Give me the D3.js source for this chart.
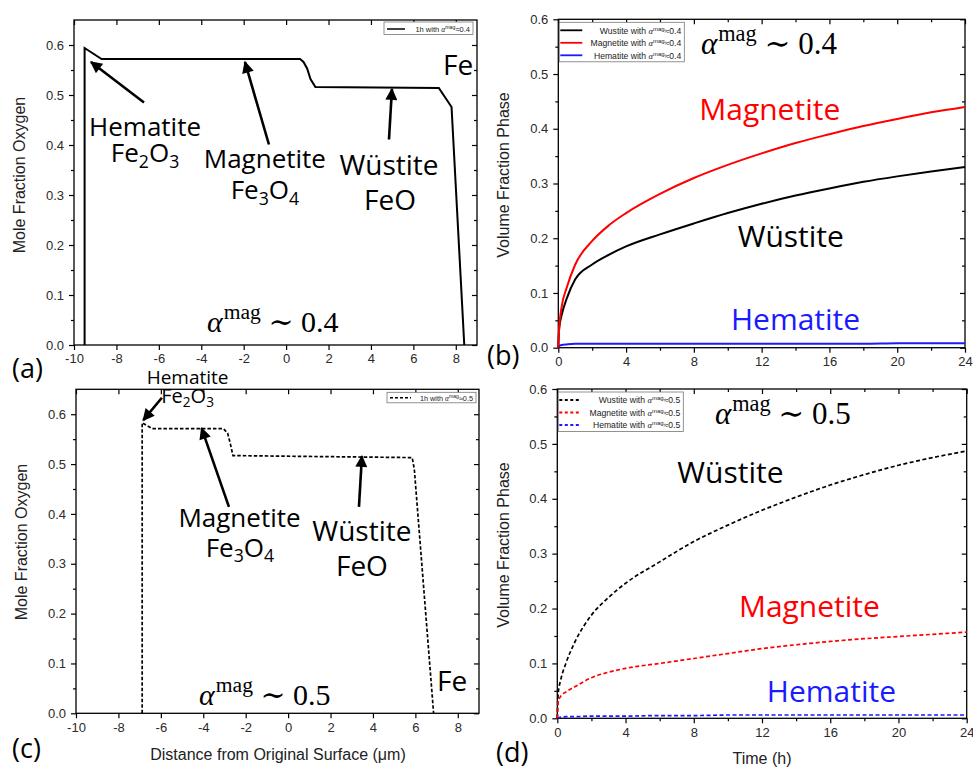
<!DOCTYPE html>
<html>
<head>
<meta charset="utf-8">
<script src="https://cdn.jsdelivr.net/npm/d3@7"></script>
<style>
body { margin: 0; background: #fff; }
svg text { font-family: "Liberation Sans", Arial, sans-serif; }
.ann { font-family: "Open Sans", sans-serif; }
.math { font-family: "Liberation Serif", "DejaVu Serif", serif; }
</style>
</head>
<body>
<svg id="fig" width="973" height="769"></svg>
<script>
// (a) oxygen profile, alpha_mag ~ 0.4
var posA = [-9.5, -9.5, -8.7, 0.66, 0.82, 0.99, 1.15, 1.38, 7.2, 7.8, 8.4];
var oxyA = [0, 0.594, 0.572, 0.572, 0.566, 0.553, 0.532, 0.516, 0.514, 0.476, 0];

// (c) oxygen profile, alpha_mag ~ 0.5
var posC = [-6.88, -6.88, -6.4, -3.05, -2.85, -2.72, -2.6, 5.85, 5.95, 6.86];
var oxyC = [0, 0.583, 0.571, 0.571, 0.562, 0.54, 0.517, 0.513, 0.49, 0];

// (b) and (d) volume fractions vs time (h)
var hours = [0, 0.05, 0.2, 0.5, 1, 2, 3, 4, 6, 8, 10, 12, 14, 16, 18, 20, 22, 24];
var wusB = [0, 0.035, 0.06, 0.09, 0.125, 0.152, 0.17, 0.185, 0.207, 0.227, 0.246, 0.263, 0.278, 0.291, 0.303, 0.313, 0.322, 0.33];
var magB = [0, 0.035, 0.075, 0.11, 0.152, 0.195, 0.224, 0.246, 0.281, 0.31, 0.334, 0.355, 0.374, 0.39, 0.405, 0.418, 0.43, 0.44];
var hemB = [0, 0.003, 0.005, 0.006, 0.007, 0.007, 0.007, 0.007, 0.007, 0.007, 0.007, 0.007, 0.007, 0.007, 0.007, 0.008, 0.008, 0.008];
var wusD = [0, 0.045, 0.07, 0.1, 0.137, 0.188, 0.22, 0.246, 0.285, 0.322, 0.352, 0.379, 0.403, 0.425, 0.444, 0.461, 0.475, 0.487];
var magD = [0, 0.03, 0.04, 0.048, 0.057, 0.074, 0.084, 0.091, 0.1, 0.109, 0.118, 0.127, 0.134, 0.14, 0.145, 0.149, 0.153, 0.157];
var hemD = [0, 0.001, 0.002, 0.003, 0.003, 0.004, 0.004, 0.004, 0.005, 0.005, 0.006, 0.006, 0.006, 0.006, 0.006, 0.006, 0.006, 0.006];

var distTicks = [-10, -8, -6, -4, -2, 0, 2, 4, 6, 8];
var timeTicks = [0, 4, 8, 12, 16, 20, 24];
var timeMinor = [2, 6, 10, 14, 18, 22];
var oxyTicks = [0, 0.1, 0.2, 0.3, 0.4, 0.5, 0.6];
var oxyMinor = [0.05, 0.15, 0.25, 0.35, 0.45, 0.55];
var volTicks = [0, 0.1, 0.2, 0.3, 0.4, 0.5, 0.6];
var volMinor = [0.05, 0.15, 0.25, 0.35, 0.45, 0.55];

var svg = d3.select('#fig');
svg.append('rect').attr('width', 973).attr('height', 769).attr('fill', '#fff');

var defs = svg.append('defs');
defs.append('marker').attr('id', 'head')
    .attr('viewBox', '0 0 10 10').attr('refX', 9).attr('refY', 5)
    .attr('markerUnits', 'userSpaceOnUse')
    .attr('markerWidth', 14).attr('markerHeight', 12)
    .attr('orient', 'auto')
  .append('path').attr('d', 'M0,0 L10,5 L0,10 Z').attr('fill', '#000');

function panel(left, top, right, bottom, xdom, ydom) {
    var g = svg.append('g').attr('transform', 'translate(' + left + ',' + top + ')');
    var w = right - left, h = bottom - top;
    var x = d3.scaleLinear().domain(xdom).range([0, w]);
    var y = d3.scaleLinear().domain(ydom).range([h, 0]);
    return {g: g, x: x, y: y, w: w, h: h};
}

function axes(p, xt, xm, yt, ym) {
    var g = p.g;
    var fmt = function(d) { return String(d); };
    var ax = [];
    ax.push(g.append('g').attr('transform', 'translate(0,' + p.h + ')')
        .call(d3.axisBottom(p.x).tickValues(xt).tickSize(5).tickPadding(4).tickFormat(fmt)));
    ax.push(g.append('g').call(d3.axisTop(p.x).tickValues(xt).tickSize(-5).tickFormat('')));
    ax.push(g.append('g').call(d3.axisLeft(p.y).tickValues(yt).tickSize(5).tickPadding(5).tickFormat(d3.format('.1f'))));
    ax.push(g.append('g').attr('transform', 'translate(' + p.w + ',0)')
        .call(d3.axisRight(p.y).tickValues(yt).tickSize(-5).tickFormat('')));
    if (xm) {
        ax.push(g.append('g').attr('transform', 'translate(0,' + p.h + ')')
            .call(d3.axisBottom(p.x).tickValues(xm).tickSize(3).tickFormat('')));
        ax.push(g.append('g').call(d3.axisTop(p.x).tickValues(xm).tickSize(-3).tickFormat('')));
    }
    ax.push(g.append('g').call(d3.axisLeft(p.y).tickValues(ym).tickSize(3).tickFormat('')));
    ax.push(g.append('g').attr('transform', 'translate(' + p.w + ',0)')
        .call(d3.axisRight(p.y).tickValues(ym).tickSize(-3).tickFormat('')));
    ax.forEach(function(a) {
        a.select('.domain').remove();
        a.selectAll('line').attr('stroke', '#000').attr('stroke-width', 1.2);
        a.selectAll('text').attr('font-size', 13).attr('fill', '#2a2a2a')
            .attr('font-family', '"Liberation Sans", Arial, sans-serif');
    });
    g.append('rect').attr('width', p.w).attr('height', p.h)
        .attr('fill', 'none').attr('stroke', '#000').attr('stroke-width', 1.3);
}

function series(p, xs, ys, color, dash, curve) {
    var pts = xs.map(function(v, i) { return [v, ys[i]]; });
    var line = d3.line()
        .x(function(d) { return p.x(d[0]); })
        .y(function(d) { return p.y(d[1]); })
        .curve(curve || d3.curveLinear);
    p.g.append('path').attr('d', line(pts)).attr('fill', 'none')
        .attr('stroke', color).attr('stroke-width', dash ? 1.7 : 2)
        .attr('stroke-dasharray', dash || null);
}

function label(p, txt, xv, yv, size, color, anchor) {
    return p.g.append('text').attr('class', 'ann')
        .attr('x', p.x(xv)).attr('y', p.y(yv))
        .attr('font-size', size).attr('fill', color || '#000')
        .attr('text-anchor', anchor || 'middle').text(txt);
}

function formula(p, parts, xv, yv, size) {
    var t = p.g.append('text').attr('class', 'ann')
        .attr('x', p.x(xv)).attr('y', p.y(yv))
        .attr('font-size', size).attr('text-anchor', 'middle');
    parts.forEach(function(s) {
        if (/[0-9]/.test(s)) {
            t.append('tspan').text(s).attr('font-size', size * 0.68).attr('dy', size * 0.2);
        } else {
            t.append('tspan').text(s).attr('dy', t.selectAll('tspan').size() ? -size * 0.2 : 0);
        }
    });
}

function arrow(p, x1, y1, x2, y2) {
    p.g.append('line')
        .attr('x1', p.x(x1)).attr('y1', p.y(y1))
        .attr('x2', p.x(x2)).attr('y2', p.y(y2))
        .attr('stroke', '#000').attr('stroke-width', 2.6)
        .attr('marker-end', 'url(#head)');
}

function alphaMag(p, val, xv, yv, size) {
    var t = p.g.append('text').attr('class', 'math')
        .attr('x', p.x(xv)).attr('y', p.y(yv)).attr('font-size', size);
    t.append('tspan').text('\u03b1').attr('font-style', 'italic');
    t.append('tspan').text('mag').attr('font-size', size * 0.72).attr('dy', -size * 0.42).attr('dx', 1);
    t.append('tspan').text(' \u223c ' + val).attr('dy', size * 0.42);
}

function legendText(t, prefix, val, size) {
    t.append('tspan').text(prefix);
    t.append('tspan').text('\u03b1').attr('font-style', 'italic').attr('font-family', '"Liberation Serif", serif');
    t.append('tspan').text('mag').attr('font-size', size * 0.7).attr('dy', -size * 0.35);
    t.append('tspan').text('\u2248' + val).attr('dy', size * 0.35);
}

// ---------- (a)
var pa = panel(74, 20, 477, 345, [-10, 9], [0, 0.65]);
axes(pa, distTicks, null, oxyTicks, oxyMinor);
series(pa, posA, oxyA, '#000');
var la = pa.g.append('g').attr('transform', 'translate(' + (pa.w - 93) + ',2)');
la.append('rect').attr('width', 89).attr('height', 12.5).attr('fill', '#fff').attr('stroke', '#777').attr('stroke-width', 0.8);
la.append('line').attr('x1', 3).attr('x2', 21).attr('y1', 7).attr('y2', 7).attr('stroke', '#000').attr('stroke-width', 1.5);
legendText(la.append('text').attr('x', 86).attr('y', 9.5).attr('font-size', 7.5).attr('text-anchor', 'end').attr('fill', '#222'), '1h with ', '0.4', 7.5);
label(pa, 'Hematite', -6.65, 0.419, 26);
formula(pa, ['Fe', '2', 'O', '3'], -6.65, 0.355, 26);
label(pa, 'Magnetite', -1.0, 0.355, 26);
formula(pa, ['Fe', '3', 'O', '4'], -1.0, 0.281, 26);
label(pa, 'W\u00fcstite', 4.85, 0.341, 28);
label(pa, 'FeO', 4.9, 0.271, 28);
label(pa, 'Fe', 7.4, 0.54, 28, '#000', 'start');
arrow(pa, -6.7, 0.485, -9.2, 0.566);
arrow(pa, -0.81, 0.401, -1.94, 0.566);
arrow(pa, 4.85, 0.411, 4.99, 0.512);
alphaMag(pa, '0.4', -3.73, 0.026, 30);

// ---------- (b)
var pb = panel(558.3, 19.3, 965, 347.7, [0, 24], [0, 0.6]);
axes(pb, timeTicks, timeMinor, volTicks, volMinor);
series(pb, hours, hemB, '#1a1aff', null, d3.curveMonotoneX);
series(pb, hours, wusB, '#000', null, d3.curveMonotoneX);
series(pb, hours, magB, '#ff0000', null, d3.curveMonotoneX);
label(pb, 'Magnetite', 12.48, 0.416, 30, '#ff0000');
label(pb, 'W\u00fcstite', 13.72, 0.184, 30, '#000');
label(pb, 'Hematite', 14.0, 0.032, 30, '#1a1aff');
alphaMag(pb, '0.4', 8.42, 0.537, 31);

// ---------- (c)
var pc = panel(76, 389.3, 479, 713.3, [-10, 9], [0, 0.65]);
axes(pc, distTicks, null, oxyTicks, oxyMinor);
series(pc, posC, oxyC, '#000', '3.5,2');
var lc = pc.g.append('g').attr('transform', 'translate(' + (pc.w - 92) + ',3)');
lc.append('rect').attr('width', 89).attr('height', 10.5).attr('fill', '#fff').attr('stroke', '#777').attr('stroke-width', 0.8);
lc.append('line').attr('x1', 3).attr('x2', 24).attr('y1', 5.5).attr('y2', 5.5).attr('stroke', '#000').attr('stroke-width', 1.4).attr('stroke-dasharray', '3,2');
legendText(lc.append('text').attr('x', 86).attr('y', 8.3).attr('font-size', 7.3).attr('text-anchor', 'end').attr('fill', '#222'), '1h with ', '0.5', 7.3);
label(pc, 'Hematite', -4.74, 0.661, 19);
formula(pc, ['Fe', '2', 'O', '3'], -4.74, 0.615, 20);
arrow(pc, -5.95, 0.633, -6.83, 0.588);
label(pc, 'Magnetite', -2.29, 0.374, 26);
formula(pc, ['Fe', '3', 'O', '4'], -2.27, 0.304, 26);
arrow(pc, -2.79, 0.414, -4.08, 0.572);
label(pc, 'W\u00fcstite', 3.48, 0.346, 28);
label(pc, 'FeO', 3.48, 0.275, 28);
arrow(pc, 3.34, 0.414, 3.48, 0.516);
label(pc, 'Fe', 7.02, 0.045, 28, '#000', 'start');
alphaMag(pc, '0.5', -4.2, 0.017, 30);

// ---------- (d)
var pd = panel(557.3, 389, 966.7, 718.3, [0, 24], [0, 0.6]);
axes(pd, timeTicks, timeMinor, volTicks, volMinor);
series(pd, hours, hemD, '#1a1aff', '4,2.5', d3.curveMonotoneX);
series(pd, hours, wusD, '#000', '4,2.5', d3.curveMonotoneX);
series(pd, hours, magD, '#ff0000', '4,2.5', d3.curveMonotoneX);
label(pd, 'W\u00fcstite', 10.15, 0.429, 30, '#000');
label(pd, 'Magnetite', 14.78, 0.185, 30, '#ff0000');
label(pd, 'Hematite', 16.07, 0.03, 30, '#1a1aff');
alphaMag(pd, '0.5', 9.24, 0.536, 31);

// legends for (b) and (d)
function seriesLegend(p, val, dash) {
    var names = ['Wustite', 'Magnetite', 'Hematite'];
    var cols = ['#000', '#ff0000', '#1a1aff'];
    var lg = p.g.append('g').attr('transform', 'translate(1,3)');
    lg.append('rect').attr('width', 125).attr('height', 39.5).attr('fill', '#fff')
        .attr('stroke', '#777').attr('stroke-width', 0.8);
    names.forEach(function(n, i) {
        var yy = 8 + i * 12.5;
        lg.append('line').attr('x1', 1).attr('x2', 23).attr('y1', yy).attr('y2', yy)
            .attr('stroke', cols[i]).attr('stroke-width', 1.8).attr('stroke-dasharray', dash || null);
        legendText(lg.append('text').attr('x', 122).attr('y', yy + 3.3).attr('font-size', 8.6)
            .attr('text-anchor', 'end').attr('fill', '#222'), n + ' with ', val, 8.6);
    });
}
seriesLegend(pb, '0.4');
seriesLegend(pd, '0.5', '3,2.5');

// axis titles
function yTitle(x, yc, txt) {
    svg.append('text').attr('transform', 'translate(' + x + ',' + yc + ') rotate(-90)')
        .attr('text-anchor', 'middle').attr('font-size', 16).attr('fill', '#222').text(txt);
}
yTitle(25, 175, 'Mole Fraction Oxygen');
yTitle(26.5, 542, 'Mole Fraction Oxygen');
yTitle(509, 175, 'Volume Fraction Phase');
yTitle(509, 545, 'Volume Fraction Phase');
svg.append('text').attr('x', 278).attr('y', 760).attr('text-anchor', 'middle')
    .attr('font-size', 16).attr('fill', '#222').text('Distance from Original Surface (\u03bcm)');
svg.append('text').attr('x', 762).attr('y', 764).attr('text-anchor', 'middle')
    .attr('font-size', 16).attr('fill', '#222').text('Time (h)');

// panel tags
[['(a)', 12, 378], ['(b)', 487, 365], ['(c)', 12, 758], ['(d)', 496, 762]].forEach(function(d) {
    svg.append('text').attr('class', 'ann').attr('x', d[1]).attr('y', d[2])
        .attr('font-size', 27).attr('fill', '#000').text(d[0]);
});
</script>
</body>
</html>
